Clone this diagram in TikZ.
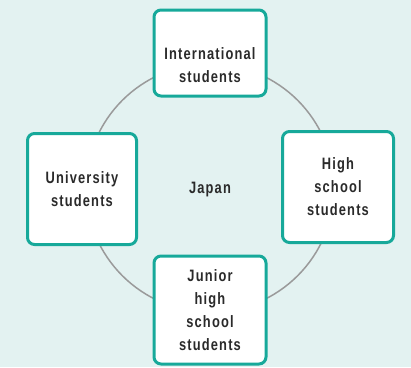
\documentclass[tikz,border=0pt]{standalone}
\usepackage{fontspec}
\setmainfont{Liberation Sans}[FakeStretch=0.78, LetterSpace=7]
\definecolor{bgc}{HTML}{E3F2F1}
\definecolor{teal}{HTML}{17A99A}
\definecolor{ringc}{HTML}{9A9A9A}
\definecolor{txt}{HTML}{2A2A2A}
\tikzset{
  box/.style={draw=teal, line width=3pt, fill=white, rounded corners=7pt,
    inner sep=0pt},
  lbl/.style={text=txt, font=\bfseries\fontsize{16.5}{23}\selectfont, align=center,
    inner sep=0pt},
}
\begin{document}
\begin{tikzpicture}[x=1pt,y=-1pt]
\fill[bgc] (0,0) rectangle (411,367);
\useasboundingbox (0,0) rectangle (411,367);
\draw[ringc, line width=1.5pt] (210,188) circle (124);
\node[box, minimum width=112pt, minimum height=86pt] (intl) at (210,53) {};
\node[lbl] (intltxt) at (210,65) {International\\students};
\node[box, lbl, minimum width=109pt, minimum height=111pt] (univ) at (82,189) {University\\students};
\node[box, lbl, minimum width=111pt, minimum height=111pt] (high) at (338,187) {High\\school\\students};
\node[box, lbl, minimum width=112pt, minimum height=108pt] (jun) at (210,310) {Junior\\high\\school\\students};
\node[lbl] (jp) at (210,190) {Japan};
\end{tikzpicture}
\end{document}
